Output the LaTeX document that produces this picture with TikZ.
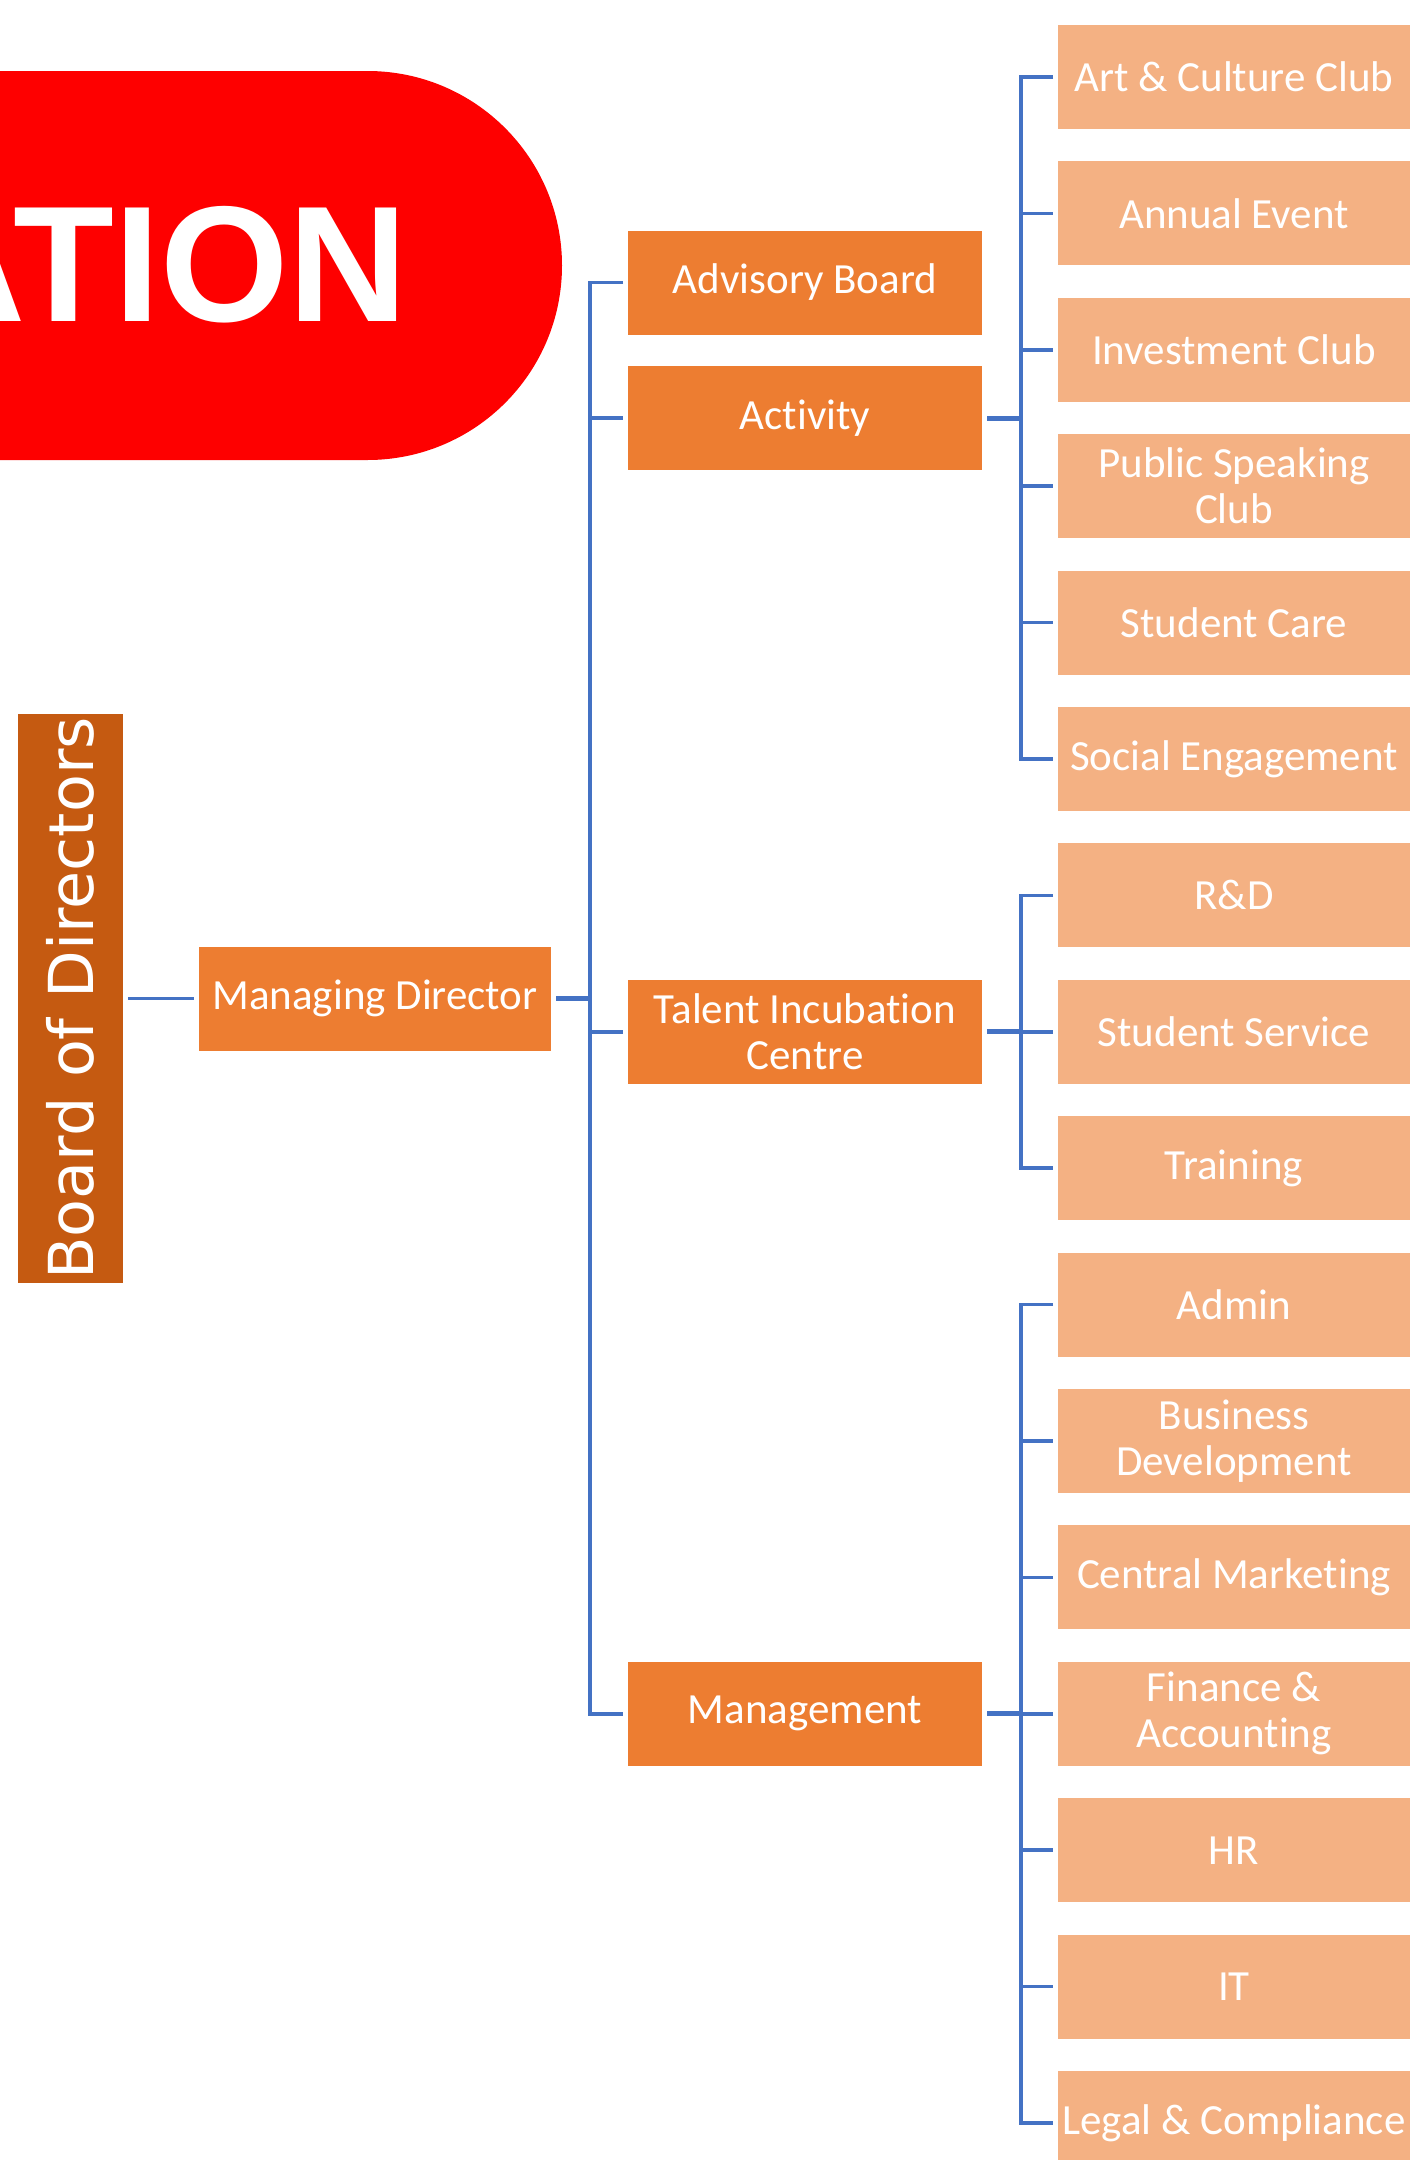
\documentclass[tikz,border=0pt]{standalone}
\usepackage{fontspec}
\setmainfont{Carlito}[Ligatures={NoCommon,NoContextual}]
\newfontfamily\boardfont{DejaVu Sans}
\newfontfamily\bannerfont{Liberation Sans}
\definecolor{parentOrange}{HTML}{ED7D31}
\definecolor{childOrange}{HTML}{F4B183}
\definecolor{boardBrown}{HTML}{C55A11}
\definecolor{lineBlue}{HTML}{4472C4}
\definecolor{bannerRed}{HTML}{FE0000}
\begin{document}
\begin{tikzpicture}[x=1pt,y=-1pt,
  box/.style={inner sep=0pt, outer xsep=5pt, minimum height=104pt, text=white, align=center,
              font=\fontsize{43}{46}\selectfont},
  parentbox/.style={box, fill=parentOrange, minimum width=354pt},
  childbox/.style={box, fill=childOrange, minimum width=352pt},
  conn/.style={draw=lineBlue, line width=3.5pt},
  trunk/.style={draw=lineBlue, line width=5pt}]
\useasboundingbox[fill=white] (0,0) rectangle (1409,2160);

% banner
\fill[bannerRed, rounded corners=194.5pt] (-420,71) rectangle (562,460);
\node[anchor=base east, inner sep=0pt, text=white, font=\bannerfont\bfseries\fontsize{165}{165}\selectfont] (banner) at (408,321) {ATION};

% board
\node[fill=boardBrown, minimum width=105pt, minimum height=569pt, inner sep=0pt, outer xsep=5pt] (bod) at (70.5,998.5) {};
\node[rotate=90, text=white, inner sep=0pt, font=\boardfont\fontsize{62}{62}\selectfont] (bodtext) at (bod.center) {Board of Directors};

% managing director
\node[parentbox, minimum width=352pt] (md) at (375,998.5) {Managing Director};

% second level
\node[parentbox] (adv) at (805,282.5) {Advisory Board};
\node[parentbox] (act) at (805,418) {Activity};
\node[parentbox] (tic) at (805,1031.8) {Talent Incubation\\Centre};
\node[parentbox] (mgmt) at (805,1713.8) {Management};

% third level
\node[childbox] (c0) at (1234,77) {Art \& Culture Club};
\node[childbox] (c1) at (1234,213.4) {Annual Event};
\node[childbox] (c2) at (1234,349.8) {Investment Club};
\node[childbox] (c3) at (1234,486.2) {Public Speaking\\Club};
\node[childbox] (c4) at (1234,622.6) {Student Care};
\node[childbox] (c5) at (1234,759) {Social Engagement};
\node[childbox] (c6) at (1234,895.4) {R\&D};
\node[childbox] (c7) at (1234,1031.8) {Student Service};
\node[childbox] (c8) at (1234,1168.2) {Training};
\node[childbox] (c9) at (1234,1304.6) {Admin};
\node[childbox] (c10) at (1234,1441) {Business\\Development};
\node[childbox] (c11) at (1234,1577.4) {Central Marketing};
\node[childbox] (c12) at (1234,1713.8) {Finance \&\\Accounting};
\node[childbox] (c13) at (1234,1850.2) {HR};
\node[childbox] (c14) at (1234,1986.6) {IT};
\node[childbox] (c15) at (1234,2123) {Legal \& Compliance};

% buses
\coordinate (lbus) at (590,998.5);
\coordinate (rb1) at (1021,418);
\coordinate (rb2) at (1021,1031.8);
\coordinate (rb3) at (1021,1713.8);

% connectors
\draw[conn] (bod.east) -- (md.west);
\draw[trunk] (md.east) -- (lbus);
\draw[conn] (adv.west) -| (lbus) |- (mgmt.west);
\foreach \n in {act,tic} \draw[conn] (\n.west -| lbus) -- (\n.west);

\draw[trunk] (act.east) -- (rb1);
\draw[conn] (c0.west) -| (rb1) |- (c5.west);
\foreach \n in {c1,c2,c3,c4} \draw[conn] (\n.west -| rb1) -- (\n.west);

\draw[trunk] (tic.east) -- (rb2);
\draw[conn] (c6.west) -| (rb2) |- (c8.west);
\draw[conn] (c7.west -| rb2) -- (c7.west);

\draw[trunk] (mgmt.east) -- (rb3);
\draw[conn] (c9.west) -| (rb3) |- (c15.west);
\foreach \n in {c10,c11,c12,c13,c14} \draw[conn] (\n.west -| rb3) -- (\n.west);
\end{tikzpicture}
\end{document}
